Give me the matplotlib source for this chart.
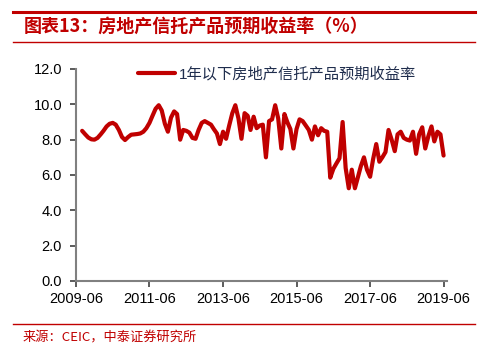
import numpy as np
import pandas as pd
import matplotlib
matplotlib.use('Agg')
import matplotlib.pyplot as plt

plt.rcParams['font.family'] = ['Liberation Sans', 'Noto Sans CJK SC', 'DejaVu Sans']

# Monthly yield of real estate trust products under 1 year (%), 2009-08 .. 2019-07
st_start = '2009-08-01'
ar_yield = [
    8.50, 8.30, 8.12, 8.02, 8.00, 8.10, 8.30, 8.50, 8.75, 8.90,
    8.95, 8.85, 8.55, 8.15, 7.98, 8.15, 8.28, 8.30, 8.32, 8.35,
    8.45, 8.65, 8.95, 9.35, 9.75, 9.95, 9.65, 8.90, 8.45, 9.25,
    9.60, 9.45, 8.00, 8.55, 8.50, 8.40, 8.10, 8.05, 8.55, 8.95,
    9.05, 8.95, 8.85, 8.60, 8.35, 7.75, 8.45, 8.05, 8.80, 9.50,
    9.95, 9.20, 8.05, 9.50, 9.35, 8.55, 9.30, 8.65, 8.80, 8.85,
    7.00, 9.05, 9.15, 9.95, 9.20, 7.50, 9.45, 9.00, 8.60, 7.50,
    8.60, 9.15, 9.05, 8.80, 8.55, 8.00, 8.75, 8.25, 8.65, 8.50,
    8.45, 5.85, 6.35, 6.65, 6.95, 9.00, 6.40, 5.25, 6.30, 5.25,
    5.90, 6.50, 7.00, 6.30, 5.90, 6.90, 7.75, 6.75, 7.00, 7.30,
    8.55, 8.00, 7.35, 8.30, 8.45, 8.10, 8.00, 7.95, 8.45, 7.20,
    8.30, 8.70, 7.50, 8.20, 8.75, 7.90, 8.45, 8.30, 7.10,
]
st_legend = '1年以下房地产信托产品预期收益率'
ls_xticks = ['2009-06', '2011-06', '2013-06', '2015-06', '2017-06', '2019-06']
ar_yticks = [0, 2, 4, 6, 8, 10, 12]

st_red = '#C00000'

ar_dates = pd.date_range(st_start, periods=len(ar_yield), freq='MS')

fig = plt.figure(figsize=(4.89, 3.53), dpi=100)

# header and footer rules
fig.add_artist(plt.Line2D([13 / 489, 475 / 489], [1 - 12 / 353, 1 - 12 / 353],
                          color=st_red, lw=2.2))
fig.add_artist(plt.Line2D([13 / 489, 475 / 489], [1 - 42 / 353, 1 - 42 / 353],
                          color=st_red, lw=1.0))
fig.add_artist(plt.Line2D([13 / 489, 475 / 489], [1 - 324 / 353, 1 - 324 / 353],
                          color=st_red, lw=1.0))
fig.text(24 / 489, 1 - 26 / 353, '图表13：房地产信托产品预期收益率（%）',
         color=st_red, fontsize=13, fontweight='bold', style='italic',
         family=['Noto Sans CJK SC', 'DejaVu Sans'], va='center', ha='left')
fig.text(23 / 489, 1 - 338 / 353, '来源：CEIC，中泰证券研究所',
         color=st_red, fontsize=9.5,
         family=['Noto Sans CJK SC', 'DejaVu Sans'], va='center', ha='left')

ax = fig.add_axes([76 / 489, (353 - 281) / 353, (447 - 76) / 489, (281 - 69) / 353])
ax.plot(ar_dates, ar_yield, color=st_red, lw=3.0, solid_joinstyle='round',
        solid_capstyle='round', label=st_legend)

ax.set_ylim(0, 12)
ax.set_yticks(ar_yticks)
ax.set_yticklabels([f'{v:.1f}' for v in ar_yticks])
ax.set_xlim(pd.Timestamp('2009-06-01'), pd.Timestamp('2019-07-05'))
ax.set_xticks([pd.Timestamp(s + '-01') for s in ls_xticks])
ax.set_xticklabels(ls_xticks)

for sp in ['top', 'right']:
    ax.spines[sp].set_visible(False)
for sp in ['left', 'bottom']:
    ax.spines[sp].set_color('#808080')
    ax.spines[sp].set_linewidth(1.5)
ax.tick_params(axis='both', colors='#404040', labelcolor='black', labelsize=10.5,
               length=4, width=1.2, direction='out')
ax.tick_params(axis='y', pad=6)
ax.tick_params(axis='x', pad=4)

leg = ax.legend(loc='center left', bbox_to_anchor=(0.13, 0.975), frameon=False,
                handlelength=2.4, handletextpad=0.3,
                prop={'family': ['Liberation Sans', 'Noto Sans CJK SC'], 'size': 11})
for t in leg.get_texts():
    t.set_color('#1F2D4D')

fig.savefig('out.png', dpi=100)
